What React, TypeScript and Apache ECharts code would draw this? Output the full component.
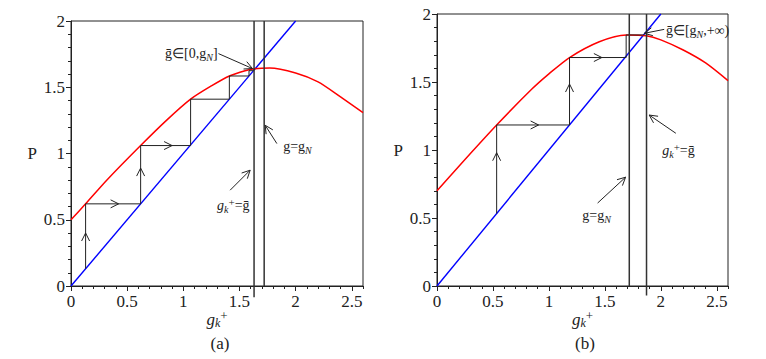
import React, { useEffect, useRef } from "react";
import * as echarts from "echarts";

const SERIF = "Liberation Serif";
const INK = "#222";

// x-axis range and ticks
const xMax = 2.6;
const yMax = 2;
const majorStep = 0.5;
const minorStep = 0.1;

// diagonal P = g
const diagX = [0, 2];

// panel (a) red curve
const redAX = [0, 0.13, 0.32, 0.62, 0.85, 1.065, 1.25, 1.41, 1.55, 1.635, 1.77, 2.0, 2.2, 2.4, 2.6];
const redAY = [0.5, 0.62, 0.8, 1.06, 1.25, 1.41, 1.51, 1.585, 1.625, 1.64, 1.645, 1.607, 1.54, 1.427, 1.309];
// panel (a) staircase
const stairAX = [0.13, 0.13, 0.62, 0.62, 1.065, 1.065, 1.41, 1.41, 1.585, 1.585, 1.625, 1.635];
const stairAY = [0.13, 0.62, 0.62, 1.06, 1.06, 1.41, 1.41, 1.585, 1.585, 1.625, 1.625, 1.64];
// panel (a) vertical lines: x, lower end
const vertAX = [1.63, 1.72];
const vertALow = [-0.085, 0];

// panel (b) red curve
const redBX = [0, 0.2, 0.533, 0.85, 1.0, 1.184, 1.45, 1.69, 1.87, 2.0, 2.2, 2.4, 2.6];
const redBY = [0.7, 0.885, 1.184, 1.45, 1.56, 1.68, 1.796, 1.846, 1.84, 1.81, 1.735, 1.64, 1.51];
// panel (b) staircase
const stairBX = [0.533, 0.533, 1.184, 1.184, 1.69, 1.69, 1.85];
const stairBY = [0.533, 1.184, 1.184, 1.68, 1.68, 1.846, 1.846];
// panel (b) vertical lines
const vertBX = [1.718, 1.872];
const vertBLow = [0, -0.07];

// arrows: [x1, y1, x2, y2, drawShaft]
const arrowsA = [
  [0.13, 0.3, 0.13, 0.4, 0],
  [0.33, 0.62, 0.424, 0.62, 0],
  [0.62, 0.8, 0.62, 0.89, 0],
  [0.8, 1.06, 0.9, 1.06, 0],
  [1.313, 1.754, 1.616, 1.641, 1],
  [1.833, 1.075, 1.729, 1.213, 1],
  [1.417, 0.723, 1.595, 0.874, 1],
];
const arrowsB = [
  [0.533, 0.9, 0.533, 0.98, 0],
  [0.82, 1.184, 0.908, 1.184, 0],
  [1.184, 1.4, 1.184, 1.485, 0],
  [1.39, 1.68, 1.473, 1.68, 0],
  [2.03, 1.887, 1.852, 1.858, 1],
  [2.134, 1.123, 1.896, 1.257, 1],
  [1.435, 0.61, 1.685, 0.8, 1],
];

// annotation texts
const notesAText = ["ḡ∈[0,g{sb|N}]", "g=g{sb|N}", "{i|g}{sb|k}{sp|+}=ḡ"];
const notesAPos = [[1.305, 1.756], [1.889, 1.05], [1.445, 0.61]];
const notesAAlign = ["right", "left", "center"];
const notesBText = ["ḡ∈[g{sb|N},+∞)", "{i|g}{sb|k}{sp|+}=ḡ", "g=g{sb|N}"];
const notesBPos = [[2.045, 1.882], [2.012, 1.0], [1.426, 0.522]];
const notesBAlign = ["left", "left", "center"];

const noteRich = {
  i: { fontFamily: SERIF, fontSize: 14, fontStyle: "italic", lineHeight: 18, fill: INK },
  sb: { fontFamily: SERIF, fontSize: 10, fontStyle: "italic", lineHeight: 10, verticalAlign: "bottom", fill: INK },
  sp: { fontFamily: SERIF, fontSize: 11, lineHeight: 10, verticalAlign: "top", fill: INK },
};

function zip(xs: number[], ys: number[]) {
  return xs.map((x, i) => [x, ys[i]]);
}

function arrowRender(params: any, api: any) {
  const p1 = api.coord([api.value(0), api.value(1)]);
  const p2 = api.coord([api.value(2), api.value(3)]);
  const shaft = api.value(4);
  const dx = p2[0] - p1[0];
  const dy = p2[1] - p1[1];
  const len = Math.hypot(dx, dy) || 1;
  const ux = dx / len;
  const uy = dy / len;
  const L = 8;
  const W = 4;
  const bx = p2[0] - ux * L;
  const by = p2[1] - uy * L;
  const left = [bx - uy * W, by + ux * W];
  const right = [bx + uy * W, by - ux * W];
  const children: any[] = [];
  if (shaft) {
    children.push({
      type: "line",
      shape: { x1: p1[0], y1: p1[1], x2: p2[0], y2: p2[1] },
      style: { stroke: INK, lineWidth: 1 },
    });
  }
  children.push({
    type: "polyline",
    shape: { points: [left, p2, right] },
    style: { stroke: INK, fill: "none", lineWidth: 1 },
  });
  return { type: "group", children };
}

function noteRenderer(texts: string[], aligns: string[]) {
  return (params: any, api: any) => {
    const p = api.coord([api.value(0), api.value(1)]);
    const idx = api.value(2);
    return {
      type: "text",
      x: p[0],
      y: p[1],
      style: {
        text: texts[idx],
        fontFamily: SERIF,
        fontSize: 14,
        lineHeight: 18,
        fill: INK,
        align: aligns[idx],
        verticalAlign: "middle",
        rich: noteRich,
      },
    };
  };
}

function xAxes(gridIndex: number) {
  const common = {
    type: "value",
    gridIndex,
    min: 0,
    max: xMax,
    position: "bottom",
    splitLine: { show: false },
  };
  return [
    {
      ...common,
      interval: majorStep,
      axisLine: { show: true, onZero: false, lineStyle: { color: INK, width: 1 } },
      axisTick: { show: true, inside: false, length: 5, lineStyle: { color: INK } },
      axisLabel: {
        show: true,
        showMaxLabel: false,
        margin: 7,
        fontFamily: SERIF,
        fontSize: 17,
        color: INK,
      },
      name: "{i|g}{sb|k}{sp|+}",
      nameLocation: "middle",
      nameGap: 23,
      nameMoveOverlap: false,
      nameTextStyle: {
        fontFamily: SERIF,
        fontSize: 17,
        color: INK,
        rich: {
          i: { fontFamily: SERIF, fontSize: 17, fontStyle: "italic", lineHeight: 20, color: INK },
          sb: { fontFamily: SERIF, fontSize: 12, fontStyle: "italic", lineHeight: 12, verticalAlign: "bottom", color: INK },
          sp: { fontFamily: SERIF, fontSize: 13, lineHeight: 12, verticalAlign: "top", color: INK },
        },
      },
    },
    {
      ...common,
      interval: minorStep,
      axisLine: { show: false, onZero: false },
      axisTick: { show: true, inside: false, length: 3, lineStyle: { color: INK } },
      axisLabel: { show: false },
    },
  ];
}

function yAxis(gridIndex: number) {
  return {
    type: "value",
    gridIndex,
    min: 0,
    max: yMax,
    interval: majorStep,
    splitLine: { show: false },
    axisLine: { show: true, onZero: false, lineStyle: { color: INK, width: 1 } },
    axisTick: { show: true, inside: false, length: 5, lineStyle: { color: INK } },
    minorTick: { show: true, splitNumber: 5, length: 3, lineStyle: { color: INK } },
    axisLabel: { margin: 6, fontFamily: SERIF, fontSize: 17, color: INK },
    name: "P",
    nameLocation: "middle",
    nameRotate: 0,
    nameGap: 34,
    nameMoveOverlap: false,
    nameTextStyle: { fontFamily: SERIF, fontSize: 17, color: INK },
  };
}

function panelSeries(
  xi: number,
  yi: number,
  redX: number[],
  redY: number[],
  stairX: number[],
  stairY: number[],
  vertX: number[],
  vertLow: number[],
  arrows: number[][],
  notePos: number[][],
  texts: string[],
  aligns: string[]
) {
  const base = { xAxisIndex: xi, yAxisIndex: yi };
  const s: any[] = [
    {
      ...base,
      type: "line",
      data: diagX.map((x) => [x, x]),
      showSymbol: false,
      lineStyle: { color: "#0000ff", width: 1.4 },
      z: 3,
    },
    {
      ...base,
      type: "line",
      data: zip(redX, redY),
      showSymbol: false,
      smooth: 0.25,
      lineStyle: { color: "#ff0000", width: 1.5 },
      z: 3,
    },
    {
      ...base,
      type: "line",
      data: zip(stairX, stairY),
      showSymbol: false,
      lineStyle: { color: INK, width: 1 },
      z: 4,
    },
  ];
  vertX.forEach((x, i) => {
    s.push({
      ...base,
      type: "line",
      clip: false,
      data: [
        [x, vertLow[i]],
        [x, yMax],
      ],
      showSymbol: false,
      lineStyle: { color: "#333", width: 1.5 },
      z: 4,
    });
  });
  s.push({
    ...base,
    type: "custom",
    renderItem: arrowRender,
    data: arrows,
    z: 5,
  });
  s.push({
    ...base,
    type: "custom",
    renderItem: noteRenderer(texts, aligns),
    data: notePos.map((p, i) => [p[0], p[1], i]),
    z: 6,
  });
  return s;
}

export default function App() {
  const ref = useRef<HTMLDivElement>(null);
  useEffect(() => {
    if (!ref.current) return;
    const chart = echarts.init(ref.current, null, { renderer: "svg" });
    chart.setOption({
      animation: false,
      backgroundColor: "#ffffff",
      textStyle: { fontFamily: SERIF },
      grid: [
        { left: 71, top: 21, width: 292, height: 265, show: true, borderColor: INK, borderWidth: 1, backgroundColor: "transparent" },
        { left: 437, top: 14, width: 291, height: 272, show: true, borderColor: INK, borderWidth: 1, backgroundColor: "transparent" },
      ],
      xAxis: [...xAxes(0), ...xAxes(1)],
      yAxis: [yAxis(0), yAxis(1)],
      series: [
        ...panelSeries(0, 0, redAX, redAY, stairAX, stairAY, vertAX, vertALow, arrowsA, notesAPos, notesAText, notesAAlign),
        ...panelSeries(2, 1, redBX, redBY, stairBX, stairBY, vertBX, vertBLow, arrowsB, notesBPos, notesBText, notesBAlign),
      ],
      graphic: [
        { type: "text", x: 220, y: 343, style: { text: "(a)", fontFamily: SERIF, fontSize: 17, fill: INK, align: "center", verticalAlign: "middle" } },
        { type: "text", x: 585, y: 343, style: { text: "(b)", fontFamily: SERIF, fontSize: 17, fill: INK, align: "center", verticalAlign: "middle" } },
      ],
    });
    return () => chart.dispose();
  }, []);
  return (
    <div
      ref={ref}
      style={{ position: "fixed", left: 0, top: 0, width: 766, height: 359 }}
    />
  );
}
